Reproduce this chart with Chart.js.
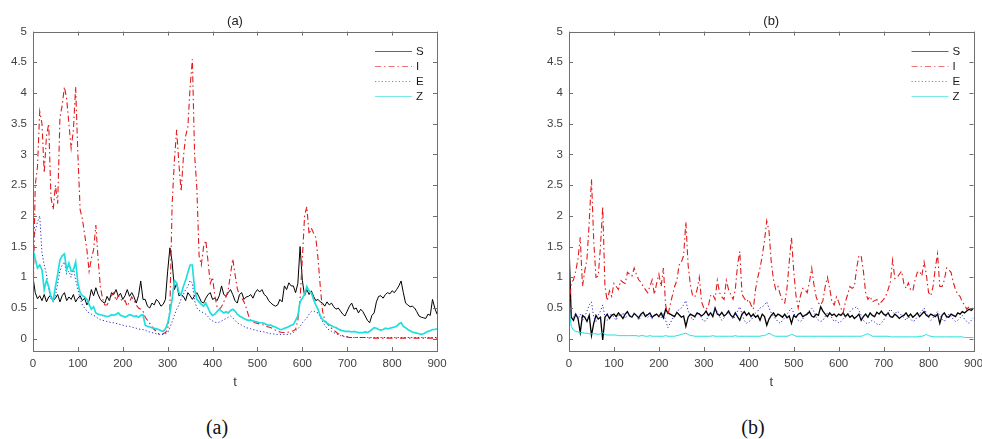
<!DOCTYPE html>
<html>
<head>
<meta charset="utf-8">
<title>S I E Z</title>
<script src="https://cdn.jsdelivr.net/npm/chart.js@4.4.0/dist/chart.umd.min.js"></script>
<style>
    html, body { margin: 0; padding: 0; width: 982px; height: 439px; overflow: hidden; background: #fff; }
    .panel { position: absolute; top: 0; }
    #panel-a { left: 0; }
    #panel-b { left: 491px; }
    .caption {
        position: absolute; top: 416px; line-height: 22px;
        font-family: "Liberation Serif", "Times New Roman", serif; font-size: 20px; color: #111;
        transform: translateX(-50%);
    }
</style>
</head>
<body>
<div class="panel" id="panel-a"><canvas id="chart-a" width="491" height="400"></canvas></div>
<div class="panel" id="panel-b"><canvas id="chart-b" width="501" height="400"></canvas></div>
<div class="caption" style="left:217px">(a)</div>
<div class="caption" style="left:753px">(b)</div>
<script>
(function() {
    'use strict';

    // time grid (every 5 units) and axis ticks
    var t = [];
    for (var k = 0; k <= 900; k += 5) { t.push(k); }
    var xTicks = [0, 100, 200, 300, 400, 500, 600, 700, 800, 900];
    var yTicks = [0, 0.5, 1, 1.5, 2, 2.5, 3, 3.5, 4, 4.5, 5];
    var names = ['S', 'I', 'E', 'Z'];

    // panel (a)
    var sA = [
        1.0, 0.75, 0.65, 0.7, 0.62, 0.72, 0.6, 0.68, 0.7, 0.62, 0.66, 0.72, 0.6, 0.7, 0.75, 0.62, 0.68, 0.64, 0.72, 0.6,
        0.66, 0.7, 0.62, 0.66, 0.55, 0.62, 0.8, 0.7, 0.83, 0.72, 0.64, 0.6, 0.58, 0.69, 0.62, 0.75, 0.72, 0.8, 0.69, 0.74,
        0.64, 0.7, 0.8, 0.69, 0.75, 0.68, 0.58, 0.7, 0.94, 0.64, 0.64, 0.53, 0.5, 0.58, 0.55, 0.64, 0.6, 0.53, 0.56, 0.64,
        1.1, 1.48, 1.25, 0.8, 0.9, 0.7, 0.72, 0.69, 0.62, 0.75, 0.7, 0.64, 0.7, 0.75, 0.68, 0.6, 0.58, 0.66, 0.72, 0.75,
        0.64, 0.66, 0.62, 0.7, 0.86, 0.72, 0.69, 0.75, 0.8, 0.72, 0.62, 0.58, 0.72, 0.75, 0.64, 0.68, 0.69, 0.72, 0.66, 0.75,
        0.8, 0.76, 0.8, 0.72, 0.69, 0.62, 0.58, 0.55, 0.53, 0.55, 0.64, 0.6, 0.86, 0.8, 0.91, 0.86, 0.86, 0.75, 0.9, 1.5,
        0.95, 0.7, 0.8, 0.72, 0.78, 0.69, 0.62, 0.64, 0.6, 0.58, 0.53, 0.6, 0.55, 0.58, 0.52, 0.48, 0.5, 0.45, 0.4, 0.37,
        0.45, 0.53, 0.58, 0.48, 0.5, 0.42, 0.48, 0.44, 0.37, 0.3, 0.26, 0.38, 0.42, 0.6, 0.69, 0.7, 0.66, 0.72, 0.75, 0.73,
        0.78, 0.75, 0.8, 0.86, 0.94, 0.75, 0.58, 0.55, 0.52, 0.53, 0.5, 0.44, 0.37, 0.35, 0.34, 0.33, 0.4, 0.38, 0.64, 0.5,
        0.4
    ];
    var iA = [
        0.55, 2.5, 2.8, 3.7, 3.5, 2.7, 3.3, 3.5, 2.3, 2.1, 2.5, 2.2, 3.6, 3.8, 4.1, 3.9, 3.5, 3.1, 3.4, 4.1,
        3.0, 2.1, 1.95, 1.7, 1.45, 1.1, 1.3, 1.45, 1.85, 1.3, 0.85, 0.65, 0.55, 0.55, 0.62, 0.7, 0.75, 0.62, 0.7, 0.65,
        0.6, 0.62, 0.53, 0.6, 0.68, 0.62, 0.55, 0.5, 0.48, 0.45, 0.35, 0.3, 0.25, 0.2, 0.15, 0.12, 0.08, 0.07, 0.08, 0.1,
        0.15, 0.5, 2.2, 2.9, 3.4, 2.85, 2.4, 2.95, 3.3, 3.45, 4.1, 4.55, 3.0, 2.45, 1.35, 1.2, 1.5, 1.6, 1.25, 0.9,
        1.0, 0.7, 0.52, 0.48, 0.52, 0.6, 0.68, 0.8, 1.05, 1.3, 1.05, 0.82, 0.7, 0.66, 0.6, 0.5, 0.38, 0.3, 0.27, 0.26,
        0.25, 0.24, 0.23, 0.22, 0.2, 0.19, 0.18, 0.16, 0.14, 0.12, 0.11, 0.1, 0.1, 0.1, 0.11, 0.12, 0.13, 0.15, 0.3, 0.65,
        1.3, 2.0, 2.15, 1.7, 1.8, 1.72, 1.65, 1.3, 0.85, 0.45, 0.3, 0.25, 0.2, 0.17, 0.14, 0.11, 0.08, 0.06, 0.05, 0.04,
        0.03, 0.02, 0.02, 0.02, 0.02, 0.02, 0.02, 0.02, 0.02, 0.02, 0.01, 0.01, 0.01, 0.01, 0.01, 0.01, 0.01, 0.01, 0.01, 0.01,
        0.01, 0.01, 0.01, 0.01, 0.01, 0.01, 0.01, 0.01, 0.01, 0.01, 0.01, 0.01, 0.01, 0.01, 0.01, 0.01, 0.01, 0.01, 0.01, 0.01,
        0.01
    ];
    var eA = [
        1.6, 1.75, 1.9, 2.0, 1.4, 1.2, 1.05, 0.8, 0.65, 0.6, 0.7, 0.9, 1.1, 1.2, 1.25, 1.05, 1.1, 1.0, 1.15, 0.95,
        0.8, 0.65, 0.55, 0.5, 0.45, 0.42, 0.4, 0.38, 0.36, 0.33, 0.31, 0.3, 0.29, 0.28, 0.27, 0.26, 0.26, 0.25, 0.24, 0.23,
        0.22, 0.21, 0.2, 0.2, 0.19, 0.18, 0.17, 0.16, 0.15, 0.15, 0.14, 0.12, 0.11, 0.1, 0.09, 0.08, 0.07, 0.07, 0.07, 0.08,
        0.1, 0.18, 0.28, 0.38, 0.48, 0.55, 0.65, 0.72, 0.8, 0.85, 0.95, 0.9, 0.62, 0.5, 0.46, 0.44, 0.42, 0.4, 0.36, 0.31,
        0.29, 0.27, 0.26, 0.27, 0.29, 0.31, 0.33, 0.35, 0.37, 0.34, 0.3, 0.26, 0.24, 0.22, 0.2, 0.18, 0.17, 0.16, 0.15, 0.14,
        0.13, 0.12, 0.12, 0.11, 0.1, 0.09, 0.08, 0.08, 0.07, 0.07, 0.07, 0.07, 0.07, 0.07, 0.07, 0.08, 0.1, 0.13, 0.16, 0.2,
        0.26, 0.3, 0.34, 0.4, 0.44, 0.45, 0.43, 0.42, 0.35, 0.28, 0.22, 0.17, 0.14, 0.12, 0.1, 0.08, 0.07, 0.05, 0.04, 0.03,
        0.03, 0.02, 0.02, 0.02, 0.02, 0.02, 0.02, 0.02, 0.02, 0.02, 0.02, 0.02, 0.02, 0.02, 0.02, 0.02, 0.02, 0.02, 0.02, 0.02,
        0.02, 0.02, 0.02, 0.02, 0.02, 0.02, 0.02, 0.02, 0.02, 0.02, 0.02, 0.02, 0.02, 0.02, 0.02, 0.02, 0.02, 0.02, 0.02, 0.02,
        0.02
    ];
    var zA = [
        1.45, 1.3, 1.15, 1.2, 1.12, 0.8, 0.95, 0.85, 0.68, 0.62, 0.85, 1.05, 1.28, 1.35, 1.38, 1.12, 1.23, 1.1, 1.12, 1.25,
        0.9, 0.75, 0.7, 0.68, 0.64, 0.56, 0.48, 0.52, 0.42, 0.4, 0.39, 0.38, 0.37, 0.36, 0.37, 0.39, 0.38, 0.4, 0.42, 0.38,
        0.37, 0.35, 0.37, 0.39, 0.38, 0.36, 0.37, 0.35, 0.38, 0.39, 0.22, 0.2, 0.19, 0.18, 0.17, 0.16, 0.15, 0.13, 0.12, 0.16,
        0.25, 0.42, 0.65, 0.95, 0.91, 0.75, 0.72, 0.85, 0.95, 1.08, 1.2, 1.2, 0.8, 0.64, 0.6, 0.56, 0.53, 0.58, 0.5, 0.42,
        0.38, 0.4, 0.44, 0.48, 0.45, 0.42, 0.44, 0.42, 0.46, 0.48, 0.45, 0.4, 0.37, 0.35, 0.33, 0.31, 0.3, 0.3, 0.29, 0.28,
        0.27, 0.26, 0.26, 0.25, 0.23, 0.22, 0.22, 0.2, 0.19, 0.17, 0.15, 0.15, 0.17, 0.18, 0.2, 0.22, 0.23, 0.3, 0.37, 0.6,
        0.66, 0.72, 0.85, 0.78, 0.75, 0.64, 0.55, 0.48, 0.37, 0.31, 0.28, 0.25, 0.23, 0.21, 0.19, 0.18, 0.16, 0.14, 0.13, 0.12,
        0.12, 0.12, 0.11, 0.12, 0.11, 0.1, 0.1, 0.1, 0.11, 0.1, 0.12, 0.15, 0.18, 0.17, 0.15, 0.14, 0.15, 0.17, 0.16, 0.17,
        0.18, 0.19, 0.2, 0.24, 0.26, 0.2, 0.18, 0.15, 0.13, 0.11, 0.1, 0.09, 0.08, 0.07, 0.08, 0.1, 0.12, 0.13, 0.15, 0.15,
        0.16
    ];

    // panel (b)
    var sB = [
        1.5, 0.35, 0.3, 0.4, 0.33, 0.1, 0.38, 0.35, 0.28, 0.38, 0.05, 0.25, 0.38, 0.32, 0.35, -0.02, 0.35, 0.4, 0.33, 0.38,
        0.4, 0.36, 0.42, 0.38, 0.33, 0.4, 0.44, 0.37, 0.35, 0.41, 0.38, 0.34, 0.4, 0.43, 0.36, 0.39, 0.42, 0.35, 0.38, 0.4,
        0.36, 0.42, 0.34, 0.48, 0.42, 0.4, 0.38, 0.36, 0.43, 0.39, 0.35, 0.37, 0.2, 0.35, 0.4, 0.38, 0.36, 0.42, 0.4, 0.37,
        0.4, 0.45, 0.38, 0.42, 0.36, 0.5, 0.4, 0.38, 0.43, 0.37, 0.4, 0.45, 0.38, 0.35, 0.42, 0.36, 0.3, 0.4, 0.44, 0.38,
        0.42, 0.36, 0.4, 0.35, 0.38, 0.3, 0.4, 0.36, 0.22, 0.32, 0.38, 0.42, 0.36, 0.4, 0.38, 0.35, 0.4, 0.34, 0.37, 0.25,
        0.38, 0.35, 0.4, 0.42, 0.36, 0.38, 0.4, 0.44, 0.37, 0.35, 0.4, 0.38, 0.52, 0.45, 0.4, 0.36, 0.42, 0.38, 0.4, 0.36,
        0.4, 0.38, 0.42, 0.36, 0.4, 0.35, 0.38, 0.33, 0.36, 0.4, 0.3, 0.36, 0.4, 0.35, 0.42, 0.38, 0.36, 0.43, 0.4, 0.45,
        0.4, 0.38, 0.42, 0.36, 0.35, 0.4, 0.37, 0.33, 0.36, 0.38, 0.42, 0.36, 0.4, 0.35, 0.38, 0.42, 0.36, 0.4, 0.44, 0.38,
        0.36, 0.4, 0.38, 0.36, 0.4, 0.25, 0.38, 0.42, 0.36, 0.35, 0.4, 0.38, 0.36, 0.42, 0.4, 0.44, 0.42, 0.45, 0.48, 0.46,
        0.5
    ];
    var iB = [
        0.5, 0.9, 0.96, 1.1, 1.3, 1.65, 0.85, 1.1, 1.3, 1.9, 2.6, 1.6, 1.0, 1.02, 1.5, 2.15, 0.85, 0.62, 0.78, 0.69,
        0.9, 0.85, 0.8, 0.95, 0.92, 0.9, 1.08, 1.05, 1.02, 1.15, 1.05, 0.96, 0.92, 0.85, 0.8, 0.75, 0.85, 0.96, 0.72, 0.9,
        1.05, 0.85, 1.15, 0.55, 0.38, 0.55, 0.7, 0.85, 0.95, 1.2, 1.25, 1.35, 1.9, 1.2, 0.88, 0.7, 0.68, 0.8, 1.0, 0.6,
        0.5, 0.48, 0.53, 0.7, 0.72, 0.64, 0.95, 0.75, 0.68, 0.64, 0.95, 0.8, 0.72, 0.64, 0.8, 1.2, 1.42, 0.72, 0.66, 0.6,
        0.64, 0.55, 0.48, 0.8, 1.0, 1.15, 1.35, 1.6, 1.92, 1.75, 1.25, 0.96, 0.8, 0.85, 0.72, 0.62, 0.58, 0.82, 1.25, 1.65,
        1.1, 0.7, 0.5, 0.7, 0.82, 0.8, 0.75, 0.92, 1.15, 0.88, 0.68, 0.58, 0.55, 0.62, 0.85, 1.0, 0.82, 0.6, 0.55, 0.68,
        0.6, 0.5, 0.42, 0.6, 0.72, 0.85, 0.82, 0.85, 1.15, 1.35, 1.35, 1.1, 0.75, 0.64, 0.69, 0.6, 0.62, 0.64, 0.55, 0.6,
        0.64, 0.7, 0.8, 0.92, 1.28, 0.98, 1.0, 1.05, 1.1, 0.9, 0.82, 0.91, 0.8, 0.78, 0.96, 1.08, 1.1, 1.02, 1.25, 1.05,
        0.75, 0.7, 0.85, 1.15, 1.38, 0.85, 0.85, 0.95, 1.15, 1.12, 1.08, 0.92, 0.8, 0.72, 0.69, 0.6, 0.55, 0.48, 0.52, 0.5,
        0.48
    ];
    var eB = [
        0.5, 0.38, 0.35, 0.42, 0.32, 0.4, 0.3, 0.36, 0.45, 0.55, 0.6, 0.35, 0.28, 0.38, 0.45, 0.55, 0.35, 0.3, 0.38, 0.4,
        0.35, 0.3, 0.4, 0.36, 0.42, 0.33, 0.38, 0.4, 0.35, 0.42, 0.38, 0.3, 0.36, 0.4, 0.42, 0.35, 0.38, 0.32, 0.4, 0.36,
        0.4, 0.34, 0.42, 0.3, 0.18, 0.25, 0.32, 0.38, 0.42, 0.48, 0.5, 0.55, 0.62, 0.45, 0.38, 0.3, 0.34, 0.4, 0.42, 0.33,
        0.28, 0.3, 0.36, 0.42, 0.4, 0.48, 0.44, 0.36, 0.3, 0.34, 0.4, 0.42, 0.38, 0.32, 0.36, 0.45, 0.52, 0.4, 0.3, 0.25,
        0.28, 0.3, 0.36, 0.42, 0.45, 0.5, 0.52, 0.55, 0.6, 0.5, 0.42, 0.36, 0.32, 0.28, 0.25, 0.3, 0.34, 0.4, 0.45, 0.5,
        0.42, 0.35, 0.3, 0.28, 0.32, 0.38, 0.42, 0.46, 0.5, 0.44, 0.35, 0.3, 0.28, 0.3, 0.36, 0.42, 0.4, 0.34, 0.28, 0.3,
        0.26, 0.28, 0.32, 0.36, 0.4, 0.44, 0.48, 0.5, 0.52, 0.46, 0.38, 0.3, 0.26, 0.24, 0.28, 0.3, 0.27, 0.24, 0.22, 0.26,
        0.3, 0.36, 0.42, 0.48, 0.44, 0.4, 0.45, 0.42, 0.38, 0.34, 0.3, 0.36, 0.32, 0.28, 0.3, 0.36, 0.4, 0.45, 0.5, 0.42,
        0.35, 0.3, 0.34, 0.4, 0.44, 0.38, 0.32, 0.28, 0.34, 0.4, 0.36, 0.32, 0.28, 0.3, 0.34, 0.38, 0.32, 0.28, 0.25, 0.3,
        0.34
    ];
    var zB = [
        0.5, 0.2, 0.14, 0.12, 0.11, 0.1, 0.1, 0.09, 0.09, 0.08, 0.08, 0.08, 0.08, 0.07, 0.08, 0.1, 0.07, 0.06, 0.06, 0.06,
        0.06, 0.06, 0.05, 0.05, 0.05, 0.05, 0.05, 0.05, 0.05, 0.05, 0.05, 0.04, 0.05, 0.05, 0.04, 0.04, 0.05, 0.04, 0.04, 0.04,
        0.04, 0.04, 0.04, 0.05, 0.04, 0.04, 0.04, 0.04, 0.05, 0.06, 0.07, 0.08, 0.09, 0.07, 0.05, 0.05, 0.04, 0.04, 0.04, 0.04,
        0.04, 0.04, 0.04, 0.04, 0.05, 0.04, 0.04, 0.04, 0.04, 0.04, 0.04, 0.04, 0.04, 0.04, 0.05, 0.04, 0.04, 0.04, 0.04, 0.04,
        0.04, 0.04, 0.04, 0.04, 0.04, 0.04, 0.05, 0.05, 0.07, 0.09, 0.07, 0.05, 0.04, 0.04, 0.04, 0.04, 0.04, 0.04, 0.05, 0.07,
        0.06, 0.04, 0.04, 0.04, 0.04, 0.04, 0.04, 0.04, 0.04, 0.04, 0.04, 0.04, 0.04, 0.04, 0.04, 0.04, 0.04, 0.04, 0.04, 0.04,
        0.04, 0.04, 0.04, 0.04, 0.04, 0.04, 0.04, 0.04, 0.04, 0.04, 0.04, 0.05, 0.07, 0.08, 0.06, 0.04, 0.04, 0.04, 0.04, 0.04,
        0.04, 0.04, 0.04, 0.03, 0.03, 0.03, 0.03, 0.03, 0.03, 0.03, 0.03, 0.03, 0.03, 0.03, 0.03, 0.03, 0.04, 0.04, 0.05, 0.07,
        0.05, 0.04, 0.03, 0.03, 0.03, 0.03, 0.03, 0.03, 0.03, 0.03, 0.03, 0.03, 0.03, 0.03, 0.03, 0.03, 0.02, 0.02, 0.02, 0.02,
        0.02
    ];

    var colors = { S: '#000000', I: '#e31a1c', E: '#2b2bc4', Z: '#1fdede' };
    var dashes = { S: [], I: [6, 3, 1.5, 3], E: [1.2, 2.2], Z: [] };
    var font = '"Liberation Sans", Arial, Helvetica, sans-serif';

    Chart.defaults.font.family = font;

    function points(values) {
        return values.map(function(v, i) { return { x: t[i], y: v }; });
    }

    // MATLAB style box with inward ticks on all four sides
    var frame = {
        id: 'frame',
        afterDatasetsDraw: function(chart) {
            var a = chart.chartArea, ctx = chart.ctx;
            var xs = chart.scales.x, ys = chart.scales.y;
            ctx.save();
            ctx.strokeStyle = '#6f6f6f';
            ctx.lineWidth = 1;
            ctx.setLineDash([]);
            ctx.beginPath();
            xs.ticks.forEach(function(tk) {
                var px = Math.round(xs.getPixelForValue(tk.value)) + 0.5;
                ctx.moveTo(px, a.bottom); ctx.lineTo(px, a.bottom - 4);
                ctx.moveTo(px, a.top); ctx.lineTo(px, a.top + 4);
            });
            ys.ticks.forEach(function(tk) {
                var py = Math.round(ys.getPixelForValue(tk.value)) + 0.5;
                ctx.moveTo(a.left, py); ctx.lineTo(a.left + 4, py);
                ctx.moveTo(a.right, py); ctx.lineTo(a.right - 4, py);
            });
            ctx.stroke();
            ctx.strokeRect(Math.round(a.left) + 0.5, Math.round(a.top) + 0.5,
                Math.round(a.right - a.left), Math.round(a.bottom - a.top));
            ctx.restore();
        }
    };

    // legend inside the axes, top right, no box
    var insideLegend = {
        id: 'insideLegend',
        afterDraw: function(chart) {
            var a = chart.chartArea, ctx = chart.ctx;
            ctx.save();
            chart.data.datasets.forEach(function(ds, i) {
                var y = Math.round(a.top + 19 + i * 15) + 0.5;
                ctx.globalAlpha = 0.6;
                ctx.strokeStyle = ds.borderColor;
                ctx.lineWidth = 1;
                ctx.setLineDash(ds.borderDash);
                ctx.beginPath();
                ctx.moveTo(a.right - 62, y);
                ctx.lineTo(a.right - 25, y);
                ctx.stroke();
                ctx.globalAlpha = 1;
                ctx.fillStyle = '#1a1a1a';
                ctx.font = '11.5px ' + font;
                ctx.textAlign = 'left';
                ctx.textBaseline = 'middle';
                ctx.fillText(ds.label, a.right - 21, y);
            });
            ctx.restore();
        }
    };

    function makeChart(id, title, series, yAxisWidth, padRight, widths) {
        var datasets = names.map(function(n, i) {
            return {
                label: n,
                data: points(series[i]),
                borderColor: colors[n],
                borderDash: dashes[n],
                borderWidth: widths[i],
                pointRadius: 0,
                tension: 0,
                order: 4 - i
            };
        });

        return new Chart(document.getElementById(id), {
            type: 'line',
            data: { datasets: datasets },
            options: {
                responsive: false,
                animation: false,
                events: [],
                layout: { padding: { left: 0, right: padRight, top: 0, bottom: 0 } },
                plugins: {
                    legend: { display: false },
                    tooltip: { enabled: false },
                    title: {
                        display: true,
                        text: title,
                        fullSize: false,
                        color: '#222',
                        font: { size: 13, weight: 'normal' },
                        padding: { top: 14, bottom: 2 }
                    }
                },
                scales: {
                    x: {
                        type: 'linear',
                        min: 0,
                        max: 900,
                        grid: { display: false, drawTicks: false },
                        border: { display: false },
                        afterBuildTicks: function(scale) {
                            scale.ticks = xTicks.map(function(v) { return { value: v }; });
                        },
                        afterFit: function(scale) { scale.height = 49; },
                        ticks: {
                            color: '#404040',
                            padding: 6,
                            maxRotation: 0,
                            font: { size: 11.5 },
                            callback: function(v) { return String(v); }
                        },
                        title: {
                            display: true,
                            text: 't',
                            color: '#404040',
                            font: { size: 13 },
                            padding: { top: 0, bottom: 9.5 }
                        }
                    },
                    y: {
                        min: -0.2,
                        max: 5,
                        grid: { display: false, drawTicks: false },
                        border: { display: false },
                        afterBuildTicks: function(scale) {
                            scale.ticks = yTicks.map(function(v) { return { value: v }; });
                        },
                        afterFit: function(scale) { scale.width = yAxisWidth; },
                        ticks: {
                            color: '#404040',
                            padding: 6,
                            font: { size: 11.5 },
                            callback: function(v) { return String(v); }
                        }
                    }
                }
            },
            plugins: [frame, insideLegend]
        });
    }

    makeChart('chart-a', '(a)', [sA, iA, eA, zA], 33, 54, [1, 1.1, 1, 1.7]);
    makeChart('chart-b', '(b)', [sB, iB, eB, zB], 78, 18.5, [1.3, 1.1, 1, 1]);
})();
</script>
</body>
</html>
